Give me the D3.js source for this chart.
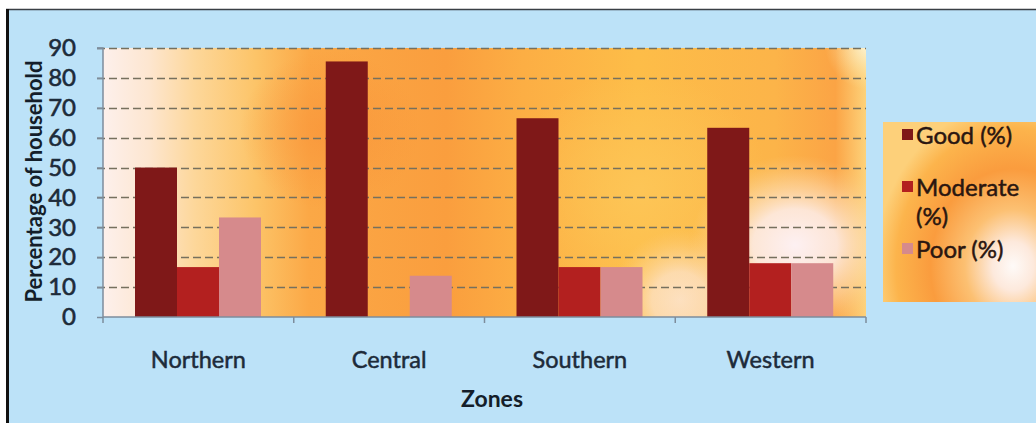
<!DOCTYPE html>
<html><head><meta charset="utf-8">
<script src="https://cdn.jsdelivr.net/npm/d3@7"></script>
<style>
html,body{margin:0;padding:0;background:#fff;}
svg{display:block;}
</style>
</head><body>
<svg id="c" width="1036" height="423"></svg>
<script>
const zones = ["Northern", "Central", "Southern", "Western"];
const seriesNames = ["Good (%)", "Moderate (%)", "Poor (%)"];
const good = [50, 85.5, 66.5, 63.3];
const moderate = [16.7, 0, 16.7, 18];
const poor = [33.3, 13.8, 16.7, 18];
const yTicks = [0, 10, 20, 30, 40, 50, 60, 70, 80, 90];
const colors = ["#7f1818", "#b3201f", "#d68a8c"];

const svg = d3.select("#c");
const defs = svg.append("defs");
const W = 1036, H = 423;
const FONT = "Lato, 'Open Sans', sans-serif";
const TXT = "#1d2b3a";

// page background
svg.append("rect").attr("x", 0).attr("y", 0).attr("width", W).attr("height", H).attr("fill", "#ffffff");
svg.append("rect").attr("x", 6).attr("y", 9).attr("width", W - 6).attr("height", H - 9).attr("fill", "#bce2f8");
svg.append("line").attr("x1", 6).attr("x2", W).attr("y1", 9.5).attr("y2", 9.5).attr("stroke", "#3a3f45").attr("stroke-width", 1.5);
svg.append("rect").attr("x", 6).attr("y", 9).attr("width", 3).attr("height", H - 9).attr("fill", "#111");

const m = {left: 103, right: 866, top: 48, bottom: 317};
const x = d3.scaleBand().domain(zones).range([m.left, m.right]).paddingInner(0).paddingOuter(0);
const x1 = d3.scaleBand().domain(seriesNames).range([32, 32 + 126]).padding(0);
const y = d3.scaleLinear().domain([0, 90]).range([m.bottom, m.top]);

// plot background gradients
const lg = defs.append("linearGradient").attr("id", "bgLin").attr("x1", "0").attr("x2", "1").attr("y1", "0").attr("y2", "0");
[[0, "#fdf0ec"], [0.06, "#fde6d0"], [0.12, "#fdd79a"], [0.2, "#fcc468"], [0.27, "#fba846"], [0.45, "#fa9e3e"], [0.55, "#fcae44"], [0.7, "#fdbd48"], [0.88, "#fcb449"], [0.96, "#fba445"], [1, "#fdd27a"]]
  .forEach(([o, c]) => lg.append("stop").attr("offset", o).attr("stop-color", c));

function radial(id, stops) {
  const g = defs.append("radialGradient").attr("id", id);
  stops.forEach(([o, c, a]) => g.append("stop").attr("offset", o).attr("stop-color", c).attr("stop-opacity", a));
}
radial("whiteSpot", [[0, "#fdf0f2", 1], [0.4, "#fdece6", 0.9], [0.7, "#fde0b8", 0.5], [1, "#fcd08a", 0]]);
radial("yellowGlow", [[0, "#fdc658", 0.9], [1, "#fdc658", 0]]);
radial("cornerSpot", [[0, "#fdf6dc", 1], [1, "#fde9a8", 0]]);
radial("orangeSpot", [[0, "#f9953a", 0.8], [1, "#f9953a", 0]]);

const clip = defs.append("clipPath").attr("id", "plotClip");
clip.append("rect").attr("x", m.left).attr("y", m.top).attr("width", m.right - m.left).attr("height", m.bottom - m.top);

const bg = svg.append("g").attr("clip-path", "url(#plotClip)");
bg.append("rect").attr("x", m.left).attr("y", m.top).attr("width", m.right - m.left).attr("height", m.bottom - m.top).attr("fill", "url(#bgLin)");
bg.append("ellipse").attr("cx", 330).attr("cy", 130).attr("rx", 90).attr("ry", 80).attr("fill", "url(#orangeSpot)");
bg.append("ellipse").attr("cx", 640).attr("cy", 190).attr("rx", 130).attr("ry", 120).attr("fill", "url(#yellowGlow)");
bg.append("ellipse").attr("cx", 870).attr("cy", 45).attr("rx", 45).attr("ry", 45).attr("fill", "url(#cornerSpot)");
bg.append("ellipse").attr("cx", 795).attr("cy", 245).attr("rx", 105).attr("ry", 90).attr("fill", "url(#whiteSpot)");
bg.append("ellipse").attr("cx", 680).attr("cy", 300).attr("rx", 70).attr("ry", 70).attr("fill", "url(#whiteSpot)").attr("opacity", 0.7);

// gridlines
svg.append("g").selectAll("line").data(yTicks.filter(d => d > 0)).join("line")
  .attr("x1", m.left - 6).attr("x2", m.right)
  .attr("y1", d => Math.round(y(d)) + 0.5).attr("y2", d => Math.round(y(d)) + 0.5)
  .attr("stroke", "#76705e").attr("stroke-width", 1.6).attr("stroke-dasharray", "8,4");

// bars
const data = zones.map((z, i) => ({zone: z, vals: [good[i], moderate[i], poor[i]]}));
const grp = svg.append("g").selectAll("g").data(data).join("g")
  .attr("transform", d => `translate(${x(d.zone)},0)`);
grp.selectAll("rect").data(d => d.vals.map((v, j) => ({s: seriesNames[j], v, j}))).join("rect")
  .attr("x", d => x1(d.s)).attr("width", x1.bandwidth())
  .attr("y", d => y(d.v)).attr("height", d => y(0) - y(d.v))
  .attr("fill", d => colors[d.j]);

// axes
const axisColor = "#7d8c9c";
const yAxis = svg.append("g").attr("transform", `translate(${m.left},0)`)
  .call(d3.axisLeft(y).tickValues(yTicks).tickSize(6).tickPadding(21).tickFormat(d3.format("d")));
yAxis.select(".domain").attr("stroke", axisColor).attr("stroke-width", 1.5).attr("d", `M-6,${m.top}H0V${m.bottom}`);
yAxis.selectAll(".tick line").attr("stroke", axisColor).attr("stroke-width", 1.5);
yAxis.selectAll(".tick text").attr("font-family", FONT).attr("font-size", 24).attr("fill", TXT)
  .attr("stroke", TXT).attr("stroke-width", 0.6);

const xAxis = svg.append("g").attr("transform", `translate(0,${m.bottom})`)
  .call(d3.axisBottom(x).tickSize(0).tickPadding(34));
xAxis.select(".domain").attr("stroke", axisColor).attr("stroke-width", 1.5).attr("d", `M${m.left},0H${m.right}`);
xAxis.selectAll(".tick text").attr("font-family", FONT).attr("font-size", 23.5).attr("fill", TXT)
  .attr("stroke", TXT).attr("stroke-width", 0.5);
xAxis.append("g").selectAll("line").data(zones.map(z => x(z)).concat([m.right])).join("line")
  .attr("x1", d => d).attr("x2", d => d).attr("y1", 0).attr("y2", 6)
  .attr("stroke", axisColor).attr("stroke-width", 1.5);

// axis titles
svg.append("text").attr("transform", `translate(42,${(m.top + m.bottom) / 2 - 1}) rotate(-90)`)
  .attr("text-anchor", "middle").attr("font-family", FONT).attr("font-size", 22).attr("font-weight", 700)
  .attr("fill", "#141e2a").text("Percentage of household");
svg.append("text").attr("x", 492).attr("y", 407).attr("text-anchor", "middle")
  .attr("font-family", FONT).attr("font-size", 23).attr("font-weight", 700).attr("fill", "#141e2a").text("Zones");

// legend
const lgB = defs.append("radialGradient").attr("id", "legBg").attr("cx", "0.85").attr("cy", "0.8").attr("r", "0.9");
[[0, "#fefaf8"], [0.15, "#fde9dc"], [0.35, "#fcc072"], [0.6, "#fa9c3e"], [0.85, "#fcb44c"], [1, "#fdd07a"]]
  .forEach(([o, c]) => lgB.append("stop").attr("offset", o).attr("stop-color", c));
svg.append("rect").attr("x", 883).attr("y", 122).attr("width", W - 883).attr("height", 180).attr("fill", "url(#legBg)");

const legendRows = [
  {lines: ["Good (%)"], y: 144},
  {lines: ["Moderate", "(%)"], y: 196},
  {lines: ["Poor (%)"], y: 258}
];
const leg = svg.append("g").selectAll("g").data(legendRows).join("g");
leg.append("rect").attr("x", 902).attr("y", d => d.y - 15).attr("width", 11).attr("height", 11)
  .attr("fill", (d, i) => colors[i]);
leg.each(function(d) {
  const g = d3.select(this);
  d.lines.forEach((l, k) => g.append("text").attr("x", 916).attr("y", d.y + k * 29)
    .attr("font-family", FONT).attr("font-size", 24).attr("fill", "#2a1610")
    .attr("stroke", "#2a1610").attr("stroke-width", 0.5).text(l));
});
</script>
</body></html>
